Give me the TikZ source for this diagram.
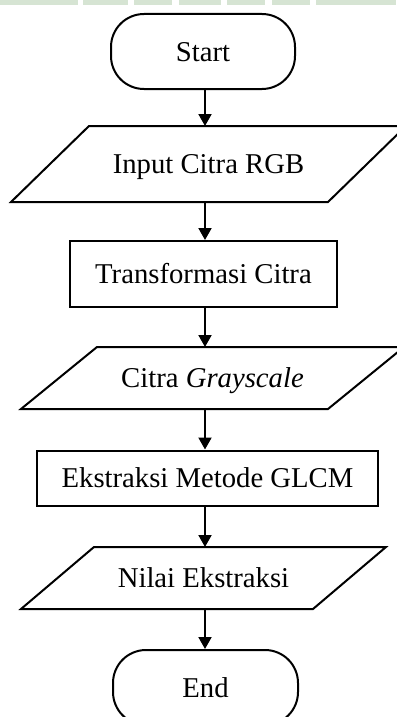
\documentclass[tikz,border=0pt]{standalone}
\usepackage{fontspec}
\setmainfont{Liberation Serif}
\usetikzlibrary{arrows.meta}
\definecolor{stripgreen}{RGB}{214,228,211}

\begin{document}
\begin{tikzpicture}[x=1pt, y=-1pt, line width=2pt,
		every node/.style={font=\fontsize{28.7}{34}\selectfont, text height=19pt, text depth=0pt},
		terminal/.style={draw, rounded corners=33pt, minimum width=184pt, minimum height=75pt},
		procbox/.style={draw, inner sep=0pt},
		iobox/.style={inner sep=0pt},
		flow/.style={-{Triangle[length=12pt, width=13pt]}}]
		\useasboundingbox (0,0) rectangle (396,717);
		% green strip along the top
		\foreach \a/\b in {0/78, 83/128, 134/172, 179/221, 227/265, 272/310, 316/396}
			\fill[stripgreen] (\a,0) rectangle (\b,5);
		\coordinate (axis) at (205,0);
		\node[terminal] (start) at (203,51.5) {Start};
		\node[iobox, minimum width=315pt, minimum height=74pt] (input) at (208.5,164) {Input Citra RGB};
		\draw ([xshift=-39pt]input.south west) -- ([xshift=-39pt]input.south east) -- ([xshift=39pt]input.north east) -- ([xshift=39pt]input.north west) -- cycle;
		\node[procbox, minimum width=267pt, minimum height=66pt] (trans) at (203.5,274) {Transformasi Citra};
		\node[iobox, minimum width=305pt, minimum height=60pt] (gray) at (212.5,378) {Citra \textit{Grayscale}};
		\draw ([xshift=-38pt]gray.south west) -- ([xshift=-38pt]gray.south east) -- ([xshift=38pt]gray.north east) -- ([xshift=38pt]gray.north west) -- cycle;
		\node[procbox, minimum width=341pt, minimum height=55pt] (glcm) at (207.5,478) {Ekstraksi Metode GLCM};
		\node[iobox, minimum width=290pt, minimum height=60pt] (nilai) at (203.5,578) {Nilai Ekstraksi};
		\draw ([xshift=-36.5pt]nilai.south west) -- ([xshift=-36.5pt]nilai.south east) -- ([xshift=36.5pt]nilai.north east) -- ([xshift=36.5pt]nilai.north west) -- cycle;
		\node[terminal, minimum width=185pt] (end) at (205.5,687.5) {End};
		% arrows
		\draw[flow] (axis |- start.south) -- (axis |- input.north);
		\draw[flow] (axis |- input.south) -- (axis |- trans.north);
		\draw[flow] (axis |- trans.south) -- (axis |- gray.north);
		\draw[flow] (axis |- gray.south) -- (axis |- glcm.north);
		\draw[flow] (axis |- glcm.south) -- (axis |- nilai.north);
		\draw[flow] (axis |- nilai.south) -- (axis |- end.north);
	\end{tikzpicture}
\end{document}
